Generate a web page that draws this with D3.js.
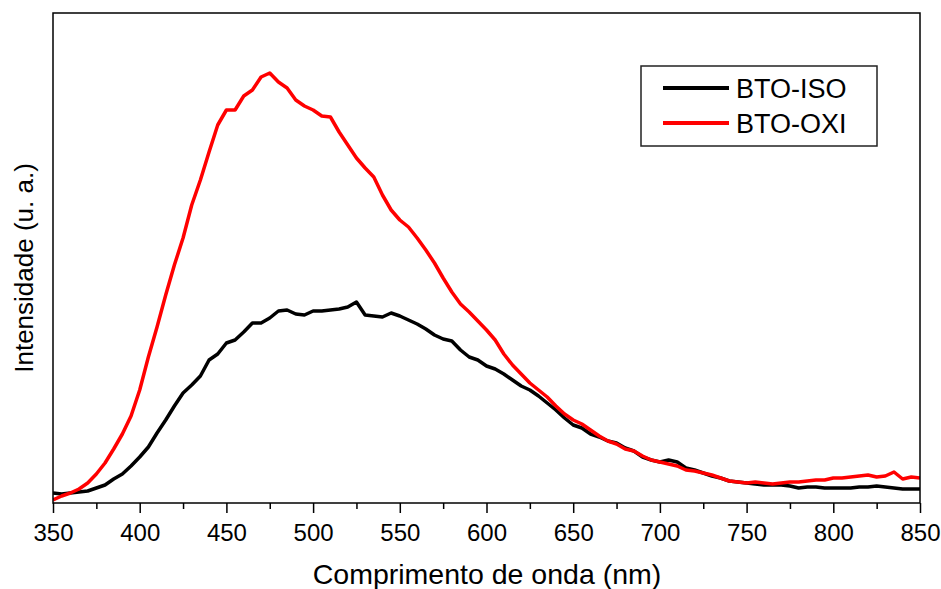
<!DOCTYPE html>
<html>
<head>
<meta charset="utf-8">
<script src="https://cdn.jsdelivr.net/npm/d3@7"></script>
<style>
    body { margin: 0; background: #fff; }
    svg { font-family: Arial, 'Liberation Sans', sans-serif; }
</style>
</head>
<body>
<svg id="chart" width="941" height="589"></svg>
<script>
// wavelength grid (nm), 5 nm steps
const wavelengths = d3.range(350, 851, 5);

// BTO-ISO (black), arbitrary units
const btoIso = [
    20, 18, 20, 22, 24, 30, 36, 48, 58, 74,
    92, 112, 140, 166, 194, 220, 236, 254, 286, 298,
    320, 326, 342, 360, 360, 370, 384, 386, 378, 376,
    384, 384, 386, 388, 392, 402, 376, 374, 372, 380,
    374, 366, 358, 348, 336, 328, 324, 306, 292, 286,
    274, 268, 258, 246, 234, 226, 214, 200, 186, 170,
    156, 150, 138, 132, 124, 120, 110, 104, 92, 86,
    82, 86, 82, 70, 66, 60, 54, 50, 44, 42,
    40, 38, 36, 36, 36, 34, 30, 32, 32, 30,
    30, 30, 30, 32, 32, 34, 32, 30, 28, 28,
    28
];

// BTO-OXI (red), arbitrary units
const btoOxi = [
    6, 14, 20, 28, 40, 58, 80, 108, 138, 174,
    226, 292, 352, 416, 476, 530, 596, 646, 702, 756,
    786, 786, 814, 826, 852, 860, 842, 830, 806, 794,
    786, 774, 772, 742, 716, 690, 670, 652, 616, 586,
    566, 552, 530, 506, 480, 450, 422, 398, 382, 364,
    346, 326, 298, 276, 258, 240, 226, 212, 194, 178,
    166, 158, 146, 134, 124, 118, 108, 104, 94, 86,
    82, 78, 74, 66, 64, 60, 56, 50, 44, 42,
    40, 42, 40, 38, 40, 42, 42, 44, 46, 46,
    50, 50, 52, 54, 56, 52, 54, 62, 48, 52,
    50
];

const seriesNames = ['BTO-ISO', 'BTO-OXI'];
const seriesColors = ['#000000', '#ff0000'];
const majorTicks = d3.range(350, 851, 50);
const minorTicks = d3.range(375, 851, 50);

const svg = d3.select('#chart');
const plot = {left: 53, right: 920, top: 13, bottom: 503};

const x = d3.scaleLinear().domain([350, 850]).range([plot.left, plot.right]);
const y = d3.scaleLinear().domain([0, 980]).range([plot.bottom, plot.top]);

const series = [btoIso, btoOxi].map((vals, i) => ({
    name: seriesNames[i],
    color: seriesColors[i],
    points: vals.map((v, j) => ({wl: wavelengths[j], v: v}))
}));

const line = d3.line()
    .x(d => x(d.wl))
    .y(d => y(d.v));

svg.append('clipPath').attr('id', 'plotClip')
    .append('rect')
    .attr('x', plot.left).attr('y', plot.top)
    .attr('width', plot.right - plot.left).attr('height', plot.bottom - plot.top);

svg.append('g')
    .attr('clip-path', 'url(#plotClip)')
    .selectAll('path')
    .data(series)
    .join('path')
    .attr('d', d => line(d.points))
    .attr('fill', 'none')
    .attr('stroke', d => d.color)
    .attr('stroke-width', 3.5)
    .attr('stroke-linejoin', 'round');

// frame
svg.append('rect')
    .attr('x', plot.left).attr('y', plot.top)
    .attr('width', plot.right - plot.left).attr('height', plot.bottom - plot.top)
    .attr('fill', 'none')
    .attr('stroke', '#000')
    .attr('stroke-width', 1.5);

// minor ticks
svg.append('g')
    .attr('transform', 'translate(0,' + plot.bottom + ')')
    .call(d3.axisBottom(x).tickValues(minorTicks).tickSize(6).tickFormat(''))
    .call(g => g.select('.domain').remove())
    .selectAll('line').attr('stroke-width', 1.5);

// major ticks and labels
const xAxis = svg.append('g')
    .attr('transform', 'translate(0,' + plot.bottom + ')')
    .call(d3.axisBottom(x).tickValues(majorTicks).tickSize(10).tickPadding(11).tickFormat(d3.format('d')));
xAxis.select('.domain').remove();
xAxis.selectAll('line').attr('stroke-width', 1.5);
xAxis.selectAll('text')
    .attr('font-size', 24)
    .attr('font-family', 'Arial, Liberation Sans, sans-serif')
    .attr('fill', '#000');

// axis titles
svg.append('text')
    .attr('x', 487).attr('y', 584)
    .attr('text-anchor', 'middle')
    .attr('font-size', 28.5)
    .text('Comprimento de onda (nm)');

svg.append('text')
    .attr('transform', 'translate(33,268) rotate(-90)')
    .attr('text-anchor', 'middle')
    .attr('font-size', 26)
    .text('Intensidade (u. a.)');

// legend
const legend = svg.append('g');
legend.append('rect')
    .attr('x', 641).attr('y', 66)
    .attr('width', 236).attr('height', 80)
    .attr('fill', '#fff')
    .attr('stroke', '#222')
    .attr('stroke-width', 1.5);

const items = legend.selectAll('g.item')
    .data(series)
    .join('g')
    .attr('class', 'item')
    .attr('transform', (d, i) => 'translate(0,' + (88 + i * 35) + ')');
items.append('line')
    .attr('x1', 663).attr('x2', 729)
    .attr('stroke', d => d.color)
    .attr('stroke-width', 4);
items.append('text')
    .attr('x', 736).attr('y', 9.5)
    .attr('font-size', 27)
    .text(d => d.name);
</script>
</body>
</html>
